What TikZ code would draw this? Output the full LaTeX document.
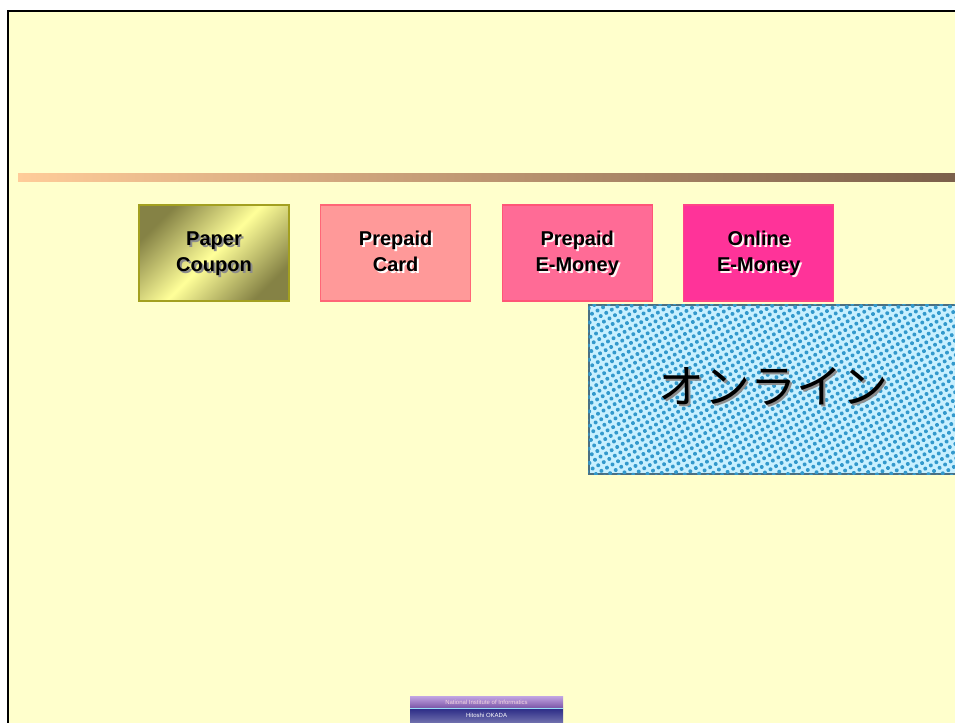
\documentclass[tikz,border=0pt]{standalone}
\usepackage{fontspec}
\setsansfont{Liberation Sans}
\newfontfamily\jpfont{Noto Sans CJK JP}
\usetikzlibrary{positioning,patterns.meta}

\definecolor{slidebg}{HTML}{FFFFCC}
\definecolor{barlight}{HTML}{FFCC99}
\definecolor{bardark}{HTML}{7A5F4A}
\definecolor{olivedark}{HTML}{858245}
\definecolor{olivelight}{HTML}{FFFF99}
\definecolor{oliveline}{HTML}{A3A020}
\definecolor{cardfill}{HTML}{FF9999}
\definecolor{cardline}{HTML}{FF6677}
\definecolor{emoneyfill}{HTML}{FF6B96}
\definecolor{emoneyline}{HTML}{FF5577}
\definecolor{onlinefill}{HTML}{FF3399}
\definecolor{onlineline}{HTML}{FF4488}
\definecolor{dotbg}{HTML}{C8F0FF}
\definecolor{dotfg}{HTML}{3399CC}
\definecolor{logotop}{HTML}{9A6AD0}
\definecolor{logonavy}{HTML}{2E2E88}

% text with a soft offset shadow
\newcommand{\shtext}[2]{%
  \makebox[0pt][l]{\raisebox{-1.5pt}[0pt][0pt]{\hspace{1.5pt}\textcolor{#1}{\begin{tabular}{@{}c@{}}#2\end{tabular}}}}%
  \begin{tabular}{@{}c@{}}#2\end{tabular}}

\begin{document}
\begin{tikzpicture}[
    x=0.75pt, y=-0.75pt,
    node distance=22.9pt,
    moneybox/.style={rectangle, draw, line width=0.8pt, minimum width=112.5pt, minimum height=72pt, inner sep=0pt, align=center, font=\sffamily\bfseries\fontsize{15}{19.5}\selectfont},
    logotext/.style={text=white, inner sep=0pt, font=\sffamily\fontsize{4.5}{5}\selectfont}
]
\clip (0,0) rectangle (955,722);
\fill[white] (0,0) rectangle (955,722);

% slide
\draw[fill=slidebg, line width=2pt] (8,11) rectangle (975,745);
\shade[left color=barlight, right color=bardark] (18,173) rectangle (960,181);

% the four kinds of money
\node[moneybox, draw=oliveline, top color=olivedark, bottom color=olivedark, middle color=olivelight, shading angle=45] (paper) at (214,253) {\shtext{black!45}{Paper\\Coupon}};
\node[moneybox, draw=cardline, fill=cardfill, right=of paper] (card) {\shtext{white}{Prepaid\\Card}};
\node[moneybox, draw=emoneyline, fill=emoneyfill, right=of card] (prepaid) {\shtext{white!85!pink}{Prepaid\\E-Money}};
\node[moneybox, draw=onlineline, fill=onlinefill, right=of prepaid] (online) {\shtext{white!80!pink}{Online\\E-Money}};

% online zone
\node[rectangle, draw=black!55!cyan, line width=0.9pt, fill=dotbg, minimum width=281.25pt, minimum height=126.75pt, inner sep=0pt] (zone) at (776.5,389.5) {};
\fill[pattern={Dots[radius=1.5pt, distance=4.8pt, angle=30]}, pattern color=dotfg] (zone.south west) rectangle (zone.north east);
\node[inner sep=0pt, font=\jpfont\fontsize{34.5}{38}\selectfont] (zonelabel) at (773,386) {\makebox[0pt][l]{\raisebox{-2pt}[0pt][0pt]{\hspace{2pt}\textcolor{black!45}{オンライン}}}オンライン};

% logo
\shade[top color=logotop!60!white, bottom color=logotop!80!black] (410,696) rectangle (563,708);
\fill[cyan!40!white] (410,707.5) rectangle (563,709);
\shade[top color=logonavy, bottom color=logonavy!70!white] (410,709) rectangle (563,722);
\node[logotext, text=white!85!purple] (nii) at (486.5,702.5) {National Institute of Informatics};
\node[logotext] (author) at (486.5,715) {Hitoshi OKADA};
\end{tikzpicture}
\end{document}
